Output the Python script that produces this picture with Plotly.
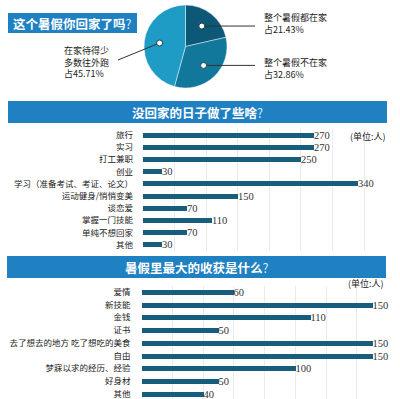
import math
import plotly.graph_objects as go

W, H = 400, 399

# ---- data ----
pie_labels = ["整个暑假都在家", "整个暑假不在家", "在家待得少多数往外跑"]
pie_values = [21.43, 32.86, 45.71]

act_labels = ["旅行", "实习", "打工兼职", "创业", "学习（准备考试、考证、论文）",
              "运动健身/悄悄变美", "谈恋爱", "掌握一门技能", "单纯不想回家", "其他"]
act_values = [270, 270, 250, 30, 340, 150, 70, 110, 70, 30]

gain_labels = ["爱情", "新技能", "金钱", "证书", "去了想去的地方 吃了想吃的美食",
               "自由", "梦寐以求的经历、经验", "好身材", "其他"]
gain_values = [60, 150, 110, 50, 150, 150, 100, 50, 40]

titles = ["这个暑假你回家了吗", "没回家的日子做了些啥", "暑假里最大的收获是什么"]
unit_text = "(单位:人)"

# ---- style ----
CJK = "Noto Sans CJK SC"
SERIF = "Liberation Serif"
BAR = "#165e7b"
TITLE_BG = "#1f80c2"
PIE_COLORS = ["#0d5877", "#11789b", "#1f9cc6"]


def px(x):
    return x / W


def py(y):
    return 1 - y / H


fig = go.Figure()

# pie
pie_x0, pie_x1, pie_y0, pie_y1 = 143, 228, 5, 88
fig.add_trace(go.Pie(
    labels=pie_labels, values=pie_values, sort=False, direction="clockwise",
    rotation=0, textinfo="none", hoverinfo="label+percent",
    marker=dict(colors=PIE_COLORS, line=dict(color="rgba(255,255,255,0.55)", width=0.8)),
    domain=dict(x=[px(pie_x0), px(pie_x1)], y=[py(pie_y1), py(pie_y0)]),
    showlegend=False,
))

# bars section 2
fig.add_trace(go.Bar(
    x=act_values, y=act_labels, orientation="h", width=0.42,
    marker=dict(color=BAR, line=dict(width=0)),
    text=[str(v) for v in act_values], textposition="outside", constraintext="none",
    textfont=dict(family=SERIF, size=10.5, color="#333333"), cliponaxis=False,
    xaxis="x", yaxis="y", showlegend=False,
))
# bars section 3
fig.add_trace(go.Bar(
    x=gain_values, y=gain_labels, orientation="h", width=0.4,
    marker=dict(color=BAR, line=dict(width=0)),
    text=[str(v) for v in gain_values], textposition="outside", constraintext="none",
    textfont=dict(family=SERIF, size=10.5, color="#333333"), cliponaxis=False,
    xaxis="x2", yaxis="y2", showlegend=False,
))

shapes = []
annotations = []

# title bars
for (x0, y0, x1, y1), t in zip([(8, 13, 137, 33), (8, 101, 387, 123), (7, 256, 386, 278)], titles):
    shapes.append(dict(type="rect", xref="paper", yref="paper",
                       x0=px(x0), x1=px(x1), y0=py(y1), y1=py(y0),
                       fillcolor=TITLE_BG, line=dict(width=0), layer="below"))
    annotations.append(dict(text="<b>%s</b><span style='color:#d6ecfa'>?</span>" % t,
                            xref="paper", yref="paper",
                            x=px((x0 + x1) / 2), y=py((y0 + y1) / 2),
                            showarrow=False, xanchor="center", yanchor="middle",
                            font=dict(family=CJK, size=12.5, color="white")))

# pie dots and leader lines
cx, cy = (pie_x0 + pie_x1) / 2, (pie_y0 + pie_y1) / 2
R = min(pie_x1 - pie_x0, pie_y1 - pie_y0) / 2
total = sum(pie_values)
acc = 0
dots = []
for v in pie_values:
    mid = (acc + v / 2) / total * 2 * math.pi
    acc += v
    dots.append((cx + 0.63 * R * math.sin(mid), cy - 0.63 * R * math.cos(mid)))

leader_ends = [(255, dots[0][1]), (255, dots[1][1]), (118, 60)]
for (dx, dy), (ex, ey) in zip(dots, leader_ends):
    shapes.append(dict(type="line", xref="paper", yref="paper",
                       x0=px(dx), y0=py(dy), x1=px(ex), y1=py(ey),
                       line=dict(color="#333333", width=1)))
for dx, dy in dots:
    shapes.append(dict(type="circle", xref="paper", yref="paper",
                       x0=px(dx - 3), x1=px(dx + 3), y0=py(dy + 3), y1=py(dy - 3),
                       fillcolor="white", line=dict(color="#1a3f55", width=1)))

pie_texts = [
    ("%s<br>占%.2f%%" % (pie_labels[0], pie_values[0]), 262, 23),
    ("%s<br>占%.2f%%" % (pie_labels[1], pie_values[1]), 262, 68),
    ("在家待得少<br>多数往外跑<br>占%.2f%%" % pie_values[2], 62, 62),
]
for t, x, y in pie_texts:
    annotations.append(dict(text=t, xref="paper", yref="paper", x=px(x), y=py(y),
                            showarrow=False, xanchor="left", yanchor="middle", align="left",
                            font=dict(family=CJK, size=9, color="#222222")))

# unit labels
for x, y in [(388, 136), (386, 283)]:
    annotations.append(dict(text=unit_text, xref="paper", yref="paper", x=px(x), y=py(y),
                            showarrow=False, xanchor="right", yanchor="middle",
                            font=dict(family=CJK, size=9, color="#222222")))

GRID = "#e9ecee"
fig.update_layout(
    width=W, height=H, margin=dict(l=0, r=0, t=0, b=0),
    paper_bgcolor="white", plot_bgcolor="white",
    shapes=shapes, annotations=annotations, bargap=0,
    xaxis=dict(domain=[px(143), px(383)], range=[0, 380], dtick=50, showgrid=True,
               gridcolor=GRID, gridwidth=1, zeroline=False, showticklabels=False,
               showline=False, fixedrange=True, anchor="y"),
    yaxis=dict(domain=[py(251), py(129)], type="category", categoryarray=act_labels,
               range=[9.5, -0.5], showgrid=False, zeroline=False, showline=False,
               ticks="", ticklabelstandoff=9,
               tickfont=dict(family=CJK, size=8.5, color="#222222"), anchor="x"),
    xaxis2=dict(domain=[px(141.5), px(380)], range=[0, 155], dtick=20, showgrid=True,
                gridcolor=GRID, gridwidth=1, zeroline=False, showticklabels=False,
                showline=False, fixedrange=True, anchor="y2"),
    yaxis2=dict(domain=[0, py(285.6)], type="category", categoryarray=gain_labels,
                range=[8.4, -0.5], showgrid=False, zeroline=False, showline=False,
                ticks="", ticklabelstandoff=10,
                tickfont=dict(family=CJK, size=8.5, color="#222222"), anchor="x2"),
)

fig.write_html("out.html")
